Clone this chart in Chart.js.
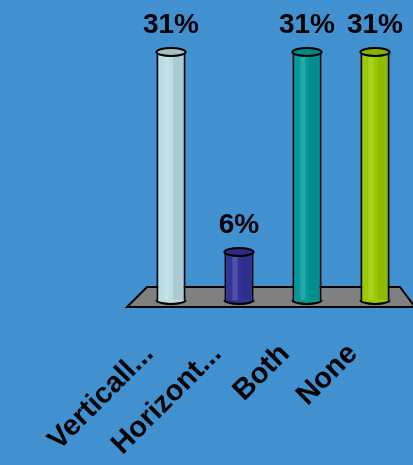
<!DOCTYPE html>
<html>
<head>
<meta charset="utf-8">
<script src="https://cdn.jsdelivr.net/npm/chart.js@4.4.1/dist/chart.umd.min.js"></script>
<style>
  html, body { margin: 0; padding: 0; background: #4190d0; }
  #wrap { width: 413px; height: 465px; }
</style>
</head>
<body>
<div id="wrap"><canvas id="chart"></canvas></div>
<script>
// data
const categories = ["Verticall...", "Horizont...", "Both", "None"];
const percents = [31, 6, 31, 31];
const barColors = ["#b9dde3", "#333399", "#009999", "#99cc00"];

// floor + cylinder look + value labels
const cylinderPlugin = {
    id: "cylinders",
    beforeDatasetsDraw(chart) {
        const ctx = chart.ctx;
        const a = chart.chartArea;
        ctx.save();
        ctx.beginPath();
        ctx.moveTo(a.left + 10, a.bottom - 13);
        ctx.lineTo(a.right - 9, a.bottom - 13);
        ctx.lineTo(a.right + 6, a.bottom + 7);
        ctx.lineTo(a.left - 10, a.bottom + 7);
        ctx.closePath();
        ctx.fillStyle = "#808080";
        ctx.fill();
        ctx.lineWidth = 2;
        ctx.strokeStyle = "#000";
        ctx.stroke();
        ctx.restore();
    },
    afterDatasetsDraw(chart) {
        const ctx = chart.ctx;
        const meta = chart.getDatasetMeta(0);
        ctx.save();
        meta.data.forEach(function (bar, i) {
            const half = bar.width / 2;
            const x = bar.x, top = bar.y, base = bar.base;
            // shading stripes
            ctx.fillStyle = "rgba(255,255,255,0.15)";
            ctx.fillRect(x - half * 0.45, top, half * 0.35, base - top);
            ctx.fillStyle = "rgba(0,0,0,0.08)";
            ctx.fillRect(x + half * 0.15, top, half * 0.8, base - top);
            ctx.lineWidth = 2;
            ctx.strokeStyle = "#000";
            // bottom round
            ctx.beginPath();
            ctx.ellipse(x, base, half, 4, 0, 0, Math.PI);
            ctx.fillStyle = barColors[i];
            ctx.fill();
            ctx.stroke();
            // top cap
            ctx.beginPath();
            ctx.ellipse(x, top, half, 4, 0, 0, Math.PI * 2);
            ctx.fillStyle = barColors[i];
            ctx.fill();
            ctx.fillStyle = "rgba(0,0,0,0.12)";
            ctx.fill();
            ctx.stroke();
            // value label
            ctx.fillStyle = "#000";
            ctx.font = "bold 28px Arial";
            ctx.textAlign = "center";
            ctx.textBaseline = "alphabetic";
            ctx.fillText(percents[i] + "%", x, top - 19);
        });
        ctx.restore();
    }
};

new Chart(document.getElementById("chart"), {
    type: "bar",
    data: {
        labels: categories,
        datasets: [{
            data: percents,
            backgroundColor: barColors,
            borderColor: "#000",
            borderWidth: 2,
            borderSkipped: "bottom",
            barPercentage: 0.43,
            categoryPercentage: 1
        }]
    },
    options: {
        responsive: true,
        maintainAspectRatio: false,
        animation: false,
        layout: { padding: { top: 52, left: 137, right: 4, bottom: 0 } },
        plugins: { legend: { display: false }, tooltip: { enabled: false } },
        scales: {
            y: { display: false, min: 0, max: 31 },
            x: {
                afterFit: function (scale) {
                    scale.height = 165;
                    scale.paddingLeft = 0;
                    scale.paddingRight = 0;
                },
                grid: { display: false },
                border: { display: false },
                ticks: {
                    color: "#000",
                    font: { family: "Arial", size: 29, weight: "bold" },
                    minRotation: 45,
                    maxRotation: 45,
                    autoSkip: false,
                    labelOffset: -22,
                    padding: 29
                }
            }
        }
    },
    plugins: [cylinderPlugin]
});
</script>
</body>
</html>
